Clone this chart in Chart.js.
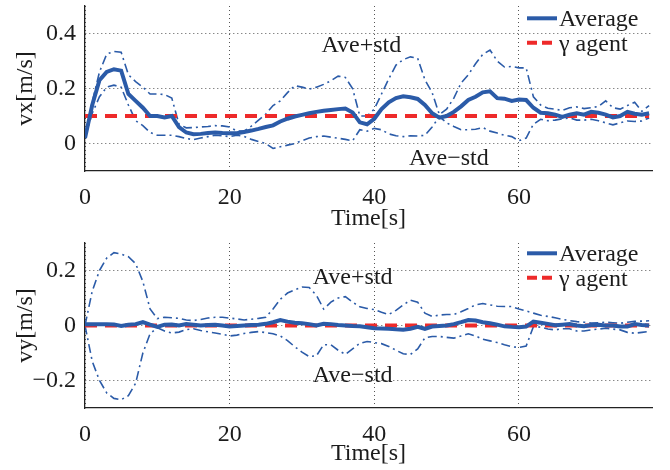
<!DOCTYPE html>
<html><head><meta charset="utf-8">
<script src="https://cdn.jsdelivr.net/npm/chart.js@4/dist/chart.umd.min.js"></script>
<style>
html,body{margin:0;padding:0;background:#fff;}
.box{position:relative;width:670px;height:235px;}
canvas{display:block;}
</style>
</head><body>
<div class="box"><canvas id="c1" width="670" height="235"></canvas></div>
<div class="box"><canvas id="c2" width="670" height="235"></canvas></div>
<script>
// ---------- data ----------
const time = [0,1,2,3,4,5,6,7,8,9,10,11,12,13,14,15,16,17,18,19,20,21,22,23,24,25,26,27,28,29,30,31,32,33,34,35,36,37,38,39,40,41,42,43,44,45,46,47,48,49,50,51,52,53,54,55,56,57,58,59,60,61,62,63,64,65,66,67,68,69,70,71,72,73,74,75,76,77,78];
const timeTicks = [0,20,40,60];

const vxAverage = [
  0.02,0.14,0.23,0.26,0.27,0.265,0.18,0.155,0.13,0.1,
  0.1,0.095,0.1,0.06,0.04,0.034,0.035,0.038,0.04,0.038,
  0.037,0.037,0.042,0.047,0.053,0.06,0.066,0.08,0.09,0.098,
  0.104,0.11,0.115,0.119,0.122,0.125,0.127,0.113,0.077,0.07,
  0.09,0.125,0.15,0.165,0.172,0.168,0.162,0.14,0.11,0.094,
  0.1,0.115,0.135,0.158,0.17,0.186,0.19,0.165,0.163,0.155,
  0.16,0.158,0.13,0.112,0.11,0.105,0.097,0.105,0.11,0.105,
  0.115,0.112,0.105,0.095,0.1,0.115,0.108,0.105,0.11];
const vxUpper = [
  0.02,0.15,0.26,0.325,0.335,0.332,0.25,0.225,0.205,0.18,
  0.18,0.178,0.165,0.07,0.057,0.058,0.06,0.062,0.065,0.064,
  0.06,0.045,0.045,0.063,0.085,0.107,0.138,0.155,0.185,0.21,
  0.205,0.198,0.205,0.215,0.228,0.245,0.24,0.2,0.1,0.1,
  0.125,0.18,0.235,0.285,0.305,0.315,0.31,0.232,0.185,0.105,
  0.125,0.165,0.22,0.25,0.29,0.324,0.34,0.3,0.278,0.28,
  0.275,0.275,0.17,0.14,0.128,0.125,0.12,0.13,0.133,0.127,
  0.13,0.135,0.155,0.13,0.125,0.138,0.15,0.117,0.138];
const vxLower = [
  0.02,0.11,0.17,0.205,0.212,0.205,0.14,0.083,0.065,0.04,
  0.03,0.03,0.03,0.025,0.018,0.014,0.02,0.025,0.03,0.028,
  0.025,0.03,0.026,0.015,0.007,0.0,-0.018,-0.012,-0.006,0.0,
  0.01,0.02,0.025,0.027,0.023,0.019,0.015,0.01,0.05,0.045,
  0.055,0.05,0.035,0.028,0.025,0.028,0.027,0.03,0.06,0.098,
  0.075,0.062,0.05,0.05,0.052,0.058,0.045,0.038,0.03,0.025,
  0.01,0.02,0.07,0.088,0.083,0.085,0.09,0.093,0.085,0.085,
  0.088,0.083,0.075,0.068,0.075,0.082,0.08,0.082,0.093];
const vxGamma = 0.1;
const vxTicks = [0,0.2,0.4];

const vyAverage = [
  0.005,0.005,0.005,0.005,0.004,-0.002,0.003,0.005,0.012,0.003,
  -0.005,0.003,0.004,0.0,0.005,0.003,0.0,0.002,0.003,0.0,
  -0.004,-0.002,0.0,0.002,0.003,0.006,0.012,0.02,0.014,0.01,
  0.008,0.005,0.0,0.006,0.005,0.002,0.0,-0.002,-0.003,-0.006,
  -0.01,-0.011,-0.012,-0.014,-0.015,-0.012,-0.005,-0.012,-0.004,-0.002,
  0.0,0.005,0.012,0.02,0.018,0.012,0.008,0.003,-0.003,-0.005,
  -0.006,-0.004,0.014,0.01,0.006,0.001,0.003,0.005,0.0,-0.003,
  0.002,0.003,0.0,0.0,-0.004,-0.004,0.005,0.002,0.0];
const vyUpper = [
  0.0,0.125,0.2,0.245,0.265,0.26,0.25,0.225,0.16,0.06,
  0.025,0.03,0.028,0.026,0.02,0.018,0.022,0.027,0.03,0.03,
  0.027,0.024,0.02,0.023,0.026,0.03,0.06,0.095,0.118,0.13,
  0.14,0.138,0.11,0.06,0.085,0.1,0.105,0.085,0.068,0.062,
  0.058,0.048,0.04,0.055,0.075,0.092,0.085,0.045,0.033,0.038,
  0.04,0.04,0.05,0.062,0.075,0.08,0.075,0.07,0.069,0.069,
  0.06,0.053,0.045,0.037,0.033,0.028,0.022,0.018,0.014,0.012,
  0.009,0.01,0.012,0.01,0.008,0.012,0.015,0.016,0.017];
const vyLower = [
  0.0,-0.13,-0.2,-0.245,-0.265,-0.27,-0.255,-0.21,-0.1,-0.03,
  -0.008,-0.02,-0.027,-0.024,-0.015,-0.012,-0.018,-0.023,-0.027,-0.032,
  -0.038,-0.035,-0.029,-0.025,-0.022,-0.026,-0.03,-0.038,-0.055,-0.077,
  -0.097,-0.113,-0.11,-0.07,-0.07,-0.09,-0.105,-0.085,-0.065,-0.058,
  -0.062,-0.066,-0.076,-0.09,-0.103,-0.105,-0.085,-0.045,-0.04,-0.04,
  -0.043,-0.046,-0.038,-0.03,-0.038,-0.05,-0.056,-0.062,-0.07,-0.077,
  -0.08,-0.075,-0.004,-0.006,-0.013,-0.016,-0.012,-0.012,-0.02,-0.02,
  -0.016,-0.013,-0.01,-0.013,-0.016,-0.025,-0.028,-0.025,-0.022];
const vyGamma = 0.0;
const vyTicks = [-0.2,0,0.2];

// ---------- styling ----------
const FONT = '"Liberation Serif", "Times New Roman", serif';
const TEXT = '#1c1c1c';
const BLUE = '#2b5ba8';
const RED = '#ee2a2a';
Chart.defaults.font.family = FONT;
Chart.defaults.font.size = 24;
Chart.defaults.color = TEXT;

function pts(vals){ return time.map((t,i)=>({x:t, y:vals[i]})); }
function fmt(v){
  if (Math.abs(v) < 1e-9) return '0';
  return (v<0?'\u2212':'') + Math.abs(v).toFixed(1);
}

function makeChart(id, spec){
  const overlay = {
    id: 'overlay_' + id,
    afterDatasetsDraw(chart){
      const ctx = chart.ctx, xs = chart.scales.x, ys = chart.scales.y, a = chart.chartArea;
      ctx.save();
      ctx.font = '24px ' + FONT;
      ctx.fillStyle = TEXT;
      ctx.textAlign = 'left';
      ctx.textBaseline = 'alphabetic';
      spec.notes.forEach(n => ctx.fillText(n.text, xs.getPixelForValue(n.x), ys.getPixelForValue(n.y)));
      const items = chart.data.datasets.filter(d => d.inLegend);
      items.forEach((d, i) => {
        const y = a.top + spec.legendTop + i * 24.5;
        ctx.save();
        ctx.strokeStyle = d.borderColor;
        ctx.lineWidth = d.borderWidth;
        ctx.setLineDash(d.legendDash || []);
        ctx.beginPath();
        ctx.moveTo(a.right - 125, y);
        ctx.lineTo(a.right - 95, y);
        ctx.stroke();
        ctx.restore();
        ctx.fillText(d.label, a.right - 93, y + 8);
      });
      ctx.restore();
    }
  };
  const stdStyle = {borderColor: BLUE, borderWidth: 1.6, borderDash: [9,4,2,4], pointRadius: 0, tension: 0, fill: false};
  return new Chart(document.getElementById(id), {
    type: 'line',
    data: {
      datasets: [
        {label: 'Average', data: pts(spec.avg), borderColor: BLUE, borderWidth: 4, pointRadius: 0, tension: 0, fill: false, inLegend: true},
        {label: '\u03b3 agent', data: time.map(t => ({x: t, y: spec.gamma})), borderColor: RED, borderWidth: 4, borderDash: [12,8], pointRadius: 0, fill: false, inLegend: true, legendDash: [10,5]},
        Object.assign({label: 'Ave+std', data: pts(spec.upper)}, stdStyle),
        Object.assign({label: 'Ave\u2212std', data: pts(spec.lower)}, stdStyle)
      ]
    },
    options: {
      responsive: false,
      animation: false,
      devicePixelRatio: 1,
      layout: {padding: {top: spec.top, right: 18, left: 0, bottom: 0}},
      plugins: {legend: {display: false}, tooltip: {enabled: false}},
      scales: {
        x: {
          type: 'linear', min: 0, max: 78.4,
          afterBuildTicks: ax => { ax.ticks = timeTicks.map(v => ({value: v})); },
          afterFit: sc => { sc.height = 235 - spec.bottom; sc.paddingLeft = 0; sc.paddingRight = 0; },
          ticks: {padding: 12, maxRotation: 0, autoSkip: false, color: TEXT, callback: v => String(v)},
          grid: {color: '#555', lineWidth: 1, drawTicks: false},
          border: {display: true, color: '#222', width: 1.3, dash: [1,3]},
          title: {display: true, text: 'Time[s]', color: TEXT, font: {size: 24}, padding: {top: 0, bottom: 2}}
        },
        y: {
          type: 'linear', min: spec.ymin, max: spec.ymax,
          afterBuildTicks: ax => { ax.ticks = spec.ticks.map(v => ({value: v})); },
          afterFit: sc => { sc.width = 85; sc.paddingTop = 0; sc.paddingBottom = 0; },
          ticks: {padding: 9, color: TEXT, callback: v => fmt(v)},
          grid: {color: '#555', lineWidth: 1, drawTicks: false},
          border: {display: true, color: '#222', width: 1.3, dash: [1,3]},
          title: {display: true, text: spec.ylabel, color: TEXT, font: {size: 24}, padding: {top: 11, bottom: 0}}
        }
      }
    },
    plugins: [overlay]
  });
}

makeChart('c1', {
  avg: vxAverage, upper: vxUpper, lower: vxLower, gamma: vxGamma,
  ymin: -0.1, ymax: 0.5, ticks: vxTicks, ylabel: 'vx[m/s]',
  top: 6, bottom: 171, legendTop: 12.3,
  notes: [{text: 'Ave+std', x: 32.7, y: 0.331}, {text: 'Ave\u2212std', x: 44.8, y: -0.078}]
});
makeChart('c2', {
  avg: vyAverage, upper: vyUpper, lower: vyLower, gamma: vyGamma,
  ymin: -0.3, ymax: 0.3, ticks: vyTicks, ylabel: 'vy[m/s]',
  top: 8, bottom: 173, legendTop: 10.3,
  notes: [{text: 'Ave+std', x: 31.5, y: 0.152}, {text: 'Ave\u2212std', x: 31.5, y: -0.204}]
});
</script>
</body></html>
